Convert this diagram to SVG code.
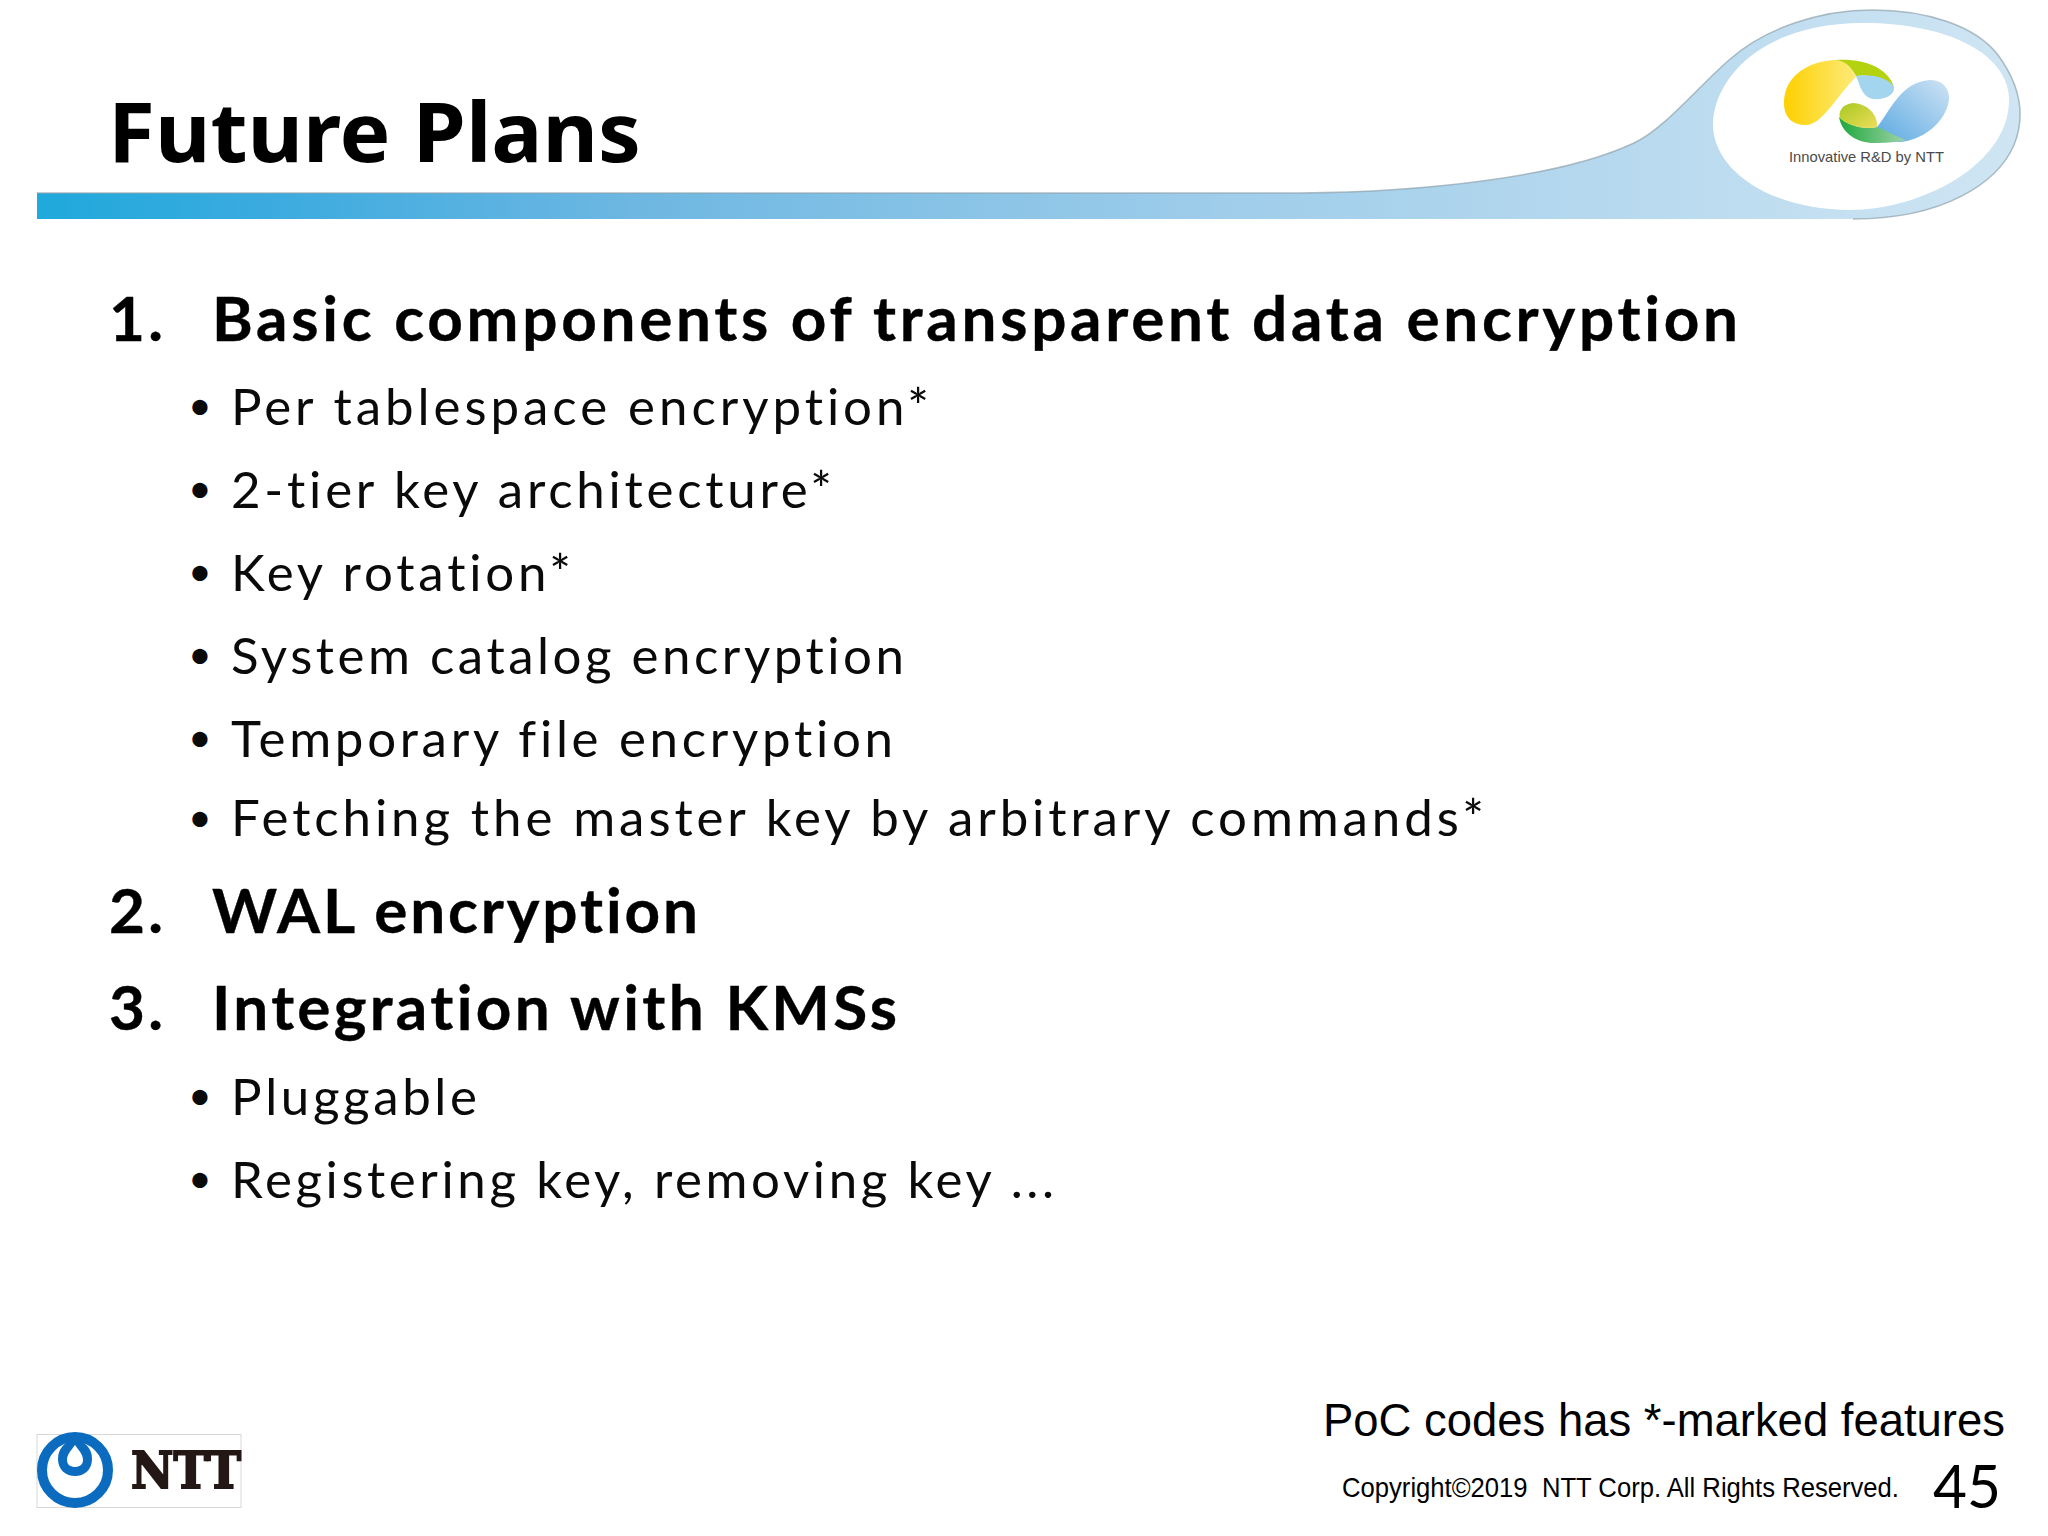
<svg xmlns="http://www.w3.org/2000/svg" width="2048" height="1536" viewBox="0 0 2048 1536">
<style>
text{fill:#000;font-variant-ligatures:none}
.h{font-family:"Lato","Noto Sans",sans-serif;font-weight:700;font-size:62px;stroke:#000;stroke-width:.4px}
.b{font-family:"Lato","Noto Sans",sans-serif;font-size:51px;fill:#0a0a0a}
.d{font-family:"Lato","Noto Sans",sans-serif;font-size:41px;fill:#0a0a0a}
.a{font-family:"Liberation Sans",Arial,sans-serif;white-space:pre}
</style>
<defs>
<linearGradient id="bar" gradientUnits="userSpaceOnUse" x1="37" y1="0" x2="2020" y2="0">
<stop offset="0" stop-color="#1fa9dc"/><stop offset="0.12" stop-color="#3cabdf"/><stop offset="0.3" stop-color="#6db7e2"/><stop offset="0.6" stop-color="#9fcdea"/><stop offset="1" stop-color="#cfe5f3"/>
</linearGradient>
<linearGradient id="yel" x1="0" y1="0" x2="1" y2="0"><stop offset="0" stop-color="#fdd000"/><stop offset="1" stop-color="#fdeb7a"/></linearGradient>
<linearGradient id="blu" x1="1" y1="0" x2="0" y2="1"><stop offset="0" stop-color="#cfe3f4"/><stop offset="1" stop-color="#5aa9e2"/></linearGradient>
<linearGradient id="grn" x1="0" y1="0" x2="1" y2="0"><stop offset="0" stop-color="#1ea83c"/><stop offset="1" stop-color="#9fd3a8"/></linearGradient>
<linearGradient id="lim" x1="0" y1="0" x2="1" y2="1"><stop offset="0" stop-color="#a8c820"/><stop offset="1" stop-color="#ecde5a"/></linearGradient>
</defs>
<rect width="2048" height="1536" fill="#fff"/>
<g id="banner">
<path d="M37,193 H1300 C1420,192 1560,178 1634,143 C1664,129 1695,90 1729,60 C1765,28 1820,10 1872,10 C1925,10 1975,25 1998,55 C2020,85 2026,115 2014,145 C1998,182 1945,219 1853,219 H37 Z" fill="url(#bar)"/>
<path d="M37,193 H1300 C1420,192 1560,178 1634,143 C1664,129 1695,90 1729,60 C1765,28 1820,10 1872,10 C1925,10 1975,25 1998,55 C2020,85 2026,115 2014,145 C1998,182 1945,219 1853,219" fill="none" stroke="#8ea3ad" stroke-opacity=".7" stroke-width="1.5"/>
<path d="M1713,123 C1714,80 1760,23 1863,23 C1950,23 2009,55 2009,100 C2009,165 1920,210 1850,210 C1770,210 1712,170 1713,123 Z" fill="#fff"/>
</g>
<g id="innovative-logo">
<path d="M1834,60 C1805,62 1784,78 1784,103 C1784,118 1793,125 1806,125 C1822,125 1835,98 1856,77 C1852,68 1845,60 1834,60 Z" fill="url(#yel)"/>
<path d="M1834,60 C1865,58 1888,68 1894,87 C1880,77 1868,74 1856,76 C1852,68 1845,60 1834,60 Z" fill="#b5d20e"/>
<path d="M1856,76 C1870,73 1890,78 1894,87 C1895,95 1885,100 1873,99 C1862,97 1860,85 1856,76 Z" fill="#a3d5ee"/>
<path d="M1930,80 C1945,80 1952,92 1948,105 C1942,125 1922,140 1900,142 C1892,142 1882,138 1877,127 C1890,112 1900,82 1930,80 Z" fill="url(#blu)"/>
<path d="M1839,117 C1842,134 1858,144 1877,143 C1888,143 1898,142 1906,140 C1895,136 1886,130 1877,127 C1865,130 1848,126 1839,117 Z" fill="url(#grn)"/>
<path d="M1853,103 C1842,104 1838,112 1840,118 C1848,126 1865,130 1877,127 C1878,115 1868,104 1853,103 Z" fill="url(#lim)"/>
<text class="a" x="1789" y="162" font-size="15" textLength="155" lengthAdjust="spacingAndGlyphs" style="fill:#4a4a4a">Innovative R&amp;D by NTT</text>
</g>
<g id="title"><text x="108" y="162" font-family="'Noto Sans','Open Sans',sans-serif" font-weight="700" font-size="82" textLength="533" lengthAdjust="spacingAndGlyphs">Future Plans</text></g>
<g id="body">
<text class="h" x="109" y="341" textLength="54">1.</text>
<text class="h" x="212" y="341" textLength="1526">Basic components of transparent data encryption</text>
<text class="d" x="188" y="420">•</text><text class="b" x="231" y="425" textLength="698">Per tablespace encryption*</text>
<text class="d" x="188" y="503">•</text><text class="b" x="231" y="508" textLength="601">2-tier key architecture*</text>
<text class="d" x="188" y="586">•</text><text class="b" x="231" y="591" textLength="340">Key rotation*</text>
<text class="d" x="188" y="669">•</text><text class="b" x="231" y="674" textLength="673">System catalog encryption</text>
<text class="d" x="188" y="752">•</text><text class="b" x="231" y="757" textLength="662">Temporary file encryption</text>
<text class="d" x="188" y="832">•</text><text class="b" x="231" y="836" textLength="1253">Fetching the master key by arbitrary commands*</text>
<text class="h" x="109" y="933" textLength="54">2.</text>
<text class="h" x="212" y="933" textLength="486">WAL encryption</text>
<text class="h" x="109" y="1030" textLength="54">3.</text>
<text class="h" x="212" y="1030" textLength="685">Integration with KMSs</text>
<text class="d" x="188" y="1110">•</text><text class="b" x="231" y="1115" textLength="246">Pluggable</text>
<text class="d" x="188" y="1193">•</text><text class="b" x="231" y="1198" textLength="823">Registering key, removing key ...</text>
</g>
<g id="footer">
<text class="a" x="1323" y="1436" font-size="45.5" textLength="682" lengthAdjust="spacingAndGlyphs">PoC codes has *-marked features</text>
<text class="a" x="1342" y="1497" font-size="27.5" textLength="557" lengthAdjust="spacingAndGlyphs" xml:space="preserve">Copyright©2019  NTT Corp. All Rights Reserved.</text>
<text x="1933" y="1508" font-family="'Lato','Noto Sans',sans-serif" font-weight="400" font-size="60" textLength="68" lengthAdjust="spacingAndGlyphs">45</text>
</g>
<g id="ntt-logo">
<rect x="37" y="1434.5" width="204" height="73" fill="#fff" stroke="#d8d8d8" stroke-width="1"/>
<circle cx="75" cy="1470" r="33" fill="none" stroke="#0b6cbf" stroke-width="10"/>
<path d="M75,1438 C66,1442 58,1447 58,1459 C58,1470 66,1476 75,1476 C84,1476 92,1470 92,1459 C92,1447 84,1442 75,1438 Z" fill="#0b6cbf"/>
<path d="M75,1445 C71,1451 67,1454 67,1460 C67,1465 71,1467 75,1467 C79,1467 83,1465 83,1460 C83,1454 79,1451 75,1445 Z" fill="#fff"/>
<text x="131" y="1488" font-family="'DejaVu Serif',serif" font-weight="700" font-size="51" textLength="110" lengthAdjust="spacingAndGlyphs" stroke="#231815" stroke-width="2" style="fill:#231815">NTT</text>
</g>
</svg>
